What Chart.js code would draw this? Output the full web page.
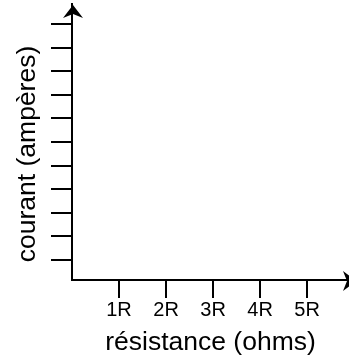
<!DOCTYPE html>
<html>
<head>
<meta charset="utf-8">
<script src="https://cdn.jsdelivr.net/npm/chart.js@4/dist/chart.umd.min.js"></script>
<style>
html,body{margin:0;padding:0;background:#fff;}
#wrap{width:349px;height:360px;}
</style>
</head>
<body>
<div id="wrap"><canvas id="c" width="349" height="360"></canvas></div>
<script>
// Data (empty axes chart)
const xTickValues = [1, 2, 3, 4, 5];
const xTickLabels = ['1R', '2R', '3R', '4R', '5R'];
const yTickValues = [1, 2, 3, 4, 5, 6, 7, 8, 9, 10, 11];
const xRange = [0, 5.89];
const yRange = [0.15, 11.85];
const xTitle = 'résistance (ohms)';
const yTitle = 'courant (ampères)';

const FONT = "'Liberation Sans', Arial, Helvetica, sans-serif";

const arrowPlugin = {
  id: 'arrows',
  afterDraw(chart) {
    const ctx = chart.ctx;
    const xs = chart.scales.x, ys = chart.scales.y;
    const ox = xs.getPixelForValue(xRange[0]) + 1;
    const oy = ys.getPixelForValue(yRange[0]) + 1;
    const top = chart.chartArea.top;
    const right = chart.chartArea.right;
    ctx.save();
    ctx.fillStyle = '#000';
    // up arrow
    ctx.beginPath();
    ctx.moveTo(ox, top + 1);
    ctx.lineTo(ox - 10, top + 14);
    ctx.lineTo(ox, top + 10);
    ctx.lineTo(ox + 10, top + 14);
    ctx.closePath();
    ctx.fill();
    // right arrow
    ctx.beginPath();
    ctx.moveTo(right + 7, oy);
    ctx.lineTo(right - 6, oy - 10);
    ctx.lineTo(right - 2, oy);
    ctx.lineTo(right - 6, oy + 10);
    ctx.closePath();
    ctx.fill();
    // y axis title (shifted slightly below the axis centre, as in the reference)
    const ca = chart.chartArea;
    ctx.translate(ys.left + 27.5, (ca.top + ca.bottom) / 2 + 12);
    ctx.rotate(-Math.PI / 2);
    ctx.font = "26.5px " + FONT;
    ctx.textAlign = 'center';
    ctx.textBaseline = 'middle';
    ctx.fillText(yTitle, 0, 0);
    ctx.restore();
  }
};

new Chart(document.getElementById('c'), {
  type: 'scatter',
  data: { datasets: [{ data: [] }] },
  plugins: [arrowPlugin],
  options: {
    responsive: false,
    animation: false,
    layout: { padding: { top: 4, right: 0, left: 0, bottom: 0 } },
    plugins: { legend: { display: false }, tooltip: { enabled: false } },
    scales: {
      x: {
        type: 'linear',
        min: xRange[0], max: xRange[1],
        afterBuildTicks: s => { s.ticks = xTickValues.map(v => ({ value: v })); },
        afterFit: s => { s.height = 80; },
        border: { display: true, color: '#000', width: 2 },
        grid: { drawOnChartArea: false, drawTicks: true, tickLength: 18, color: '#000', lineWidth: 2 },
        ticks: {
          color: '#000', padding: 0, maxRotation: 0, autoSkip: false,
          font: { family: FONT, size: 20 },
          callback: (v) => xTickLabels[xTickValues.indexOf(v)]
        },
        title: {
          display: true, text: xTitle, color: '#000',
          font: { family: FONT, size: 26.5 },
          padding: { top: 0, bottom: 1.5 }
        }
      },
      y: {
        type: 'linear',
        min: yRange[0], max: yRange[1],
        afterBuildTicks: s => { s.ticks = yTickValues.map(v => ({ value: v })); },
        afterFit: s => { s.width = 72; },
        border: { display: true, color: '#000', width: 2 },
        grid: { drawOnChartArea: false, drawTicks: true, tickLength: 21, color: '#000', lineWidth: 2 },
        ticks: { display: false },
        title: { display: false, text: yTitle }
      }
    }
  }
});
</script>
</body>
</html>
